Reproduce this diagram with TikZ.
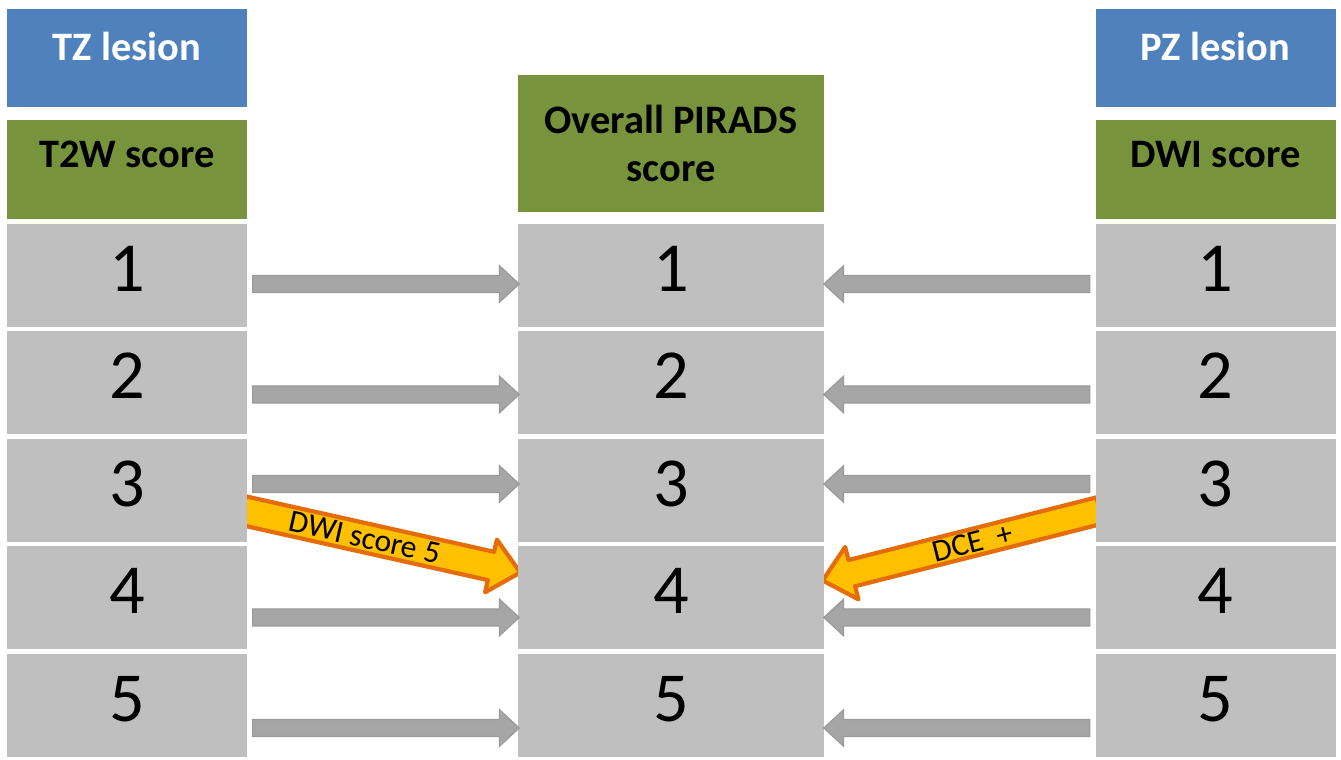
\documentclass[tikz,border=0pt]{standalone}
\usepackage{fontspec}
\setmainfont{Carlito}
\usetikzlibrary{calc,backgrounds}
\definecolor{hdrblue}{HTML}{4F81BD}
\definecolor{hdrgreen}{HTML}{77933C}
\definecolor{rowgray}{HTML}{BFBFBF}
\definecolor{arrgray}{HTML}{A6A6A6}
\definecolor{dceorange}{HTML}{E46C0A}
\definecolor{dceyellow}{HTML}{FFC000}
\newcommand\hdrfont{\fontsize{11.5}{13.5}\selectfont\bfseries}
\def\blockarrow[#1](#2)(#3)(#4:#5:#6){%
	\coordinate (ba-h) at ($(#3)!#6!(#2)$);
	\draw[#1] ($(#2)!#4!90:(#3)$) -- ($(ba-h)!#4!90:(#3)$) -- ($(ba-h)!#5!90:(#3)$) -- (#3)
		-- ($(ba-h)!#5!-90:(#3)$) -- ($(ba-h)!#4!-90:(#3)$) -- ($(#2)!#4!-90:(#3)$) -- cycle;}

\begin{document}
\begin{tikzpicture}[
		lesionbox/.style={fill=hdrblue, text=white, font=\hdrfont, inner sep=0pt, minimum width=2.4cm, minimum height=0.98cm, text depth=0.24cm},
		scorebox/.style={fill=hdrgreen, font=\hdrfont, inner sep=0pt, minimum width=2.4cm, minimum height=0.99cm},
		numbox/.style={fill=rowgray, font=\fontsize{20}{24}\selectfont, inner sep=0pt, minimum width=2.4cm, minimum height=1.03cm, text depth=0.14cm},
		grayarrow/.style={fill=arrgray, draw=black!40, line width=0.3pt},
		dcearrow/.style={fill=dceyellow, draw=dceorange, line width=1.2pt, line join=round},
		arrowtext/.style={font=\fontsize{9}{10}\selectfont}
	]
			%%%%% START %%%%%
			\useasboundingbox (0, 0) rectangle (13.41, -7.6);
			
			\node[lesionbox] (tzh) at (1.27, -0.58) {TZ lesion};
			\node[lesionbox] (pzh) at (12.155, -0.58) {PZ lesion};
			
			\node[scorebox, text depth=0.3cm] (tzs) at (1.27, -1.695) {T2W score};
			\node[scorebox, text depth=0.3cm] (pzs) at (12.155, -1.695) {DWI score};
			\node[scorebox, minimum width=3.06cm, minimum height=1.37cm, align=center] (ovs) at (6.71, -1.435) {Overall PIRADS\\score};
			
			\foreach \i in {1,...,5} {
				\node[numbox] (t\i) at (1.27, {-2.755-1.075*(\i-1)}) {\i};
				\node[numbox, minimum width=3.06cm] (o\i) at (6.71, {-2.755-1.075*(\i-1)}) {\i};
				\node[numbox] (p\i) at (12.155, {-2.755-1.075*(\i-1)}) {\i};
			}
			
			\foreach \i/\dy in {1/-0.085, 2/-0.115, 3/0.065, 4/-0.195, 5/-0.225} {
				\coordinate (la\i) at ($(t\i.east)+(0.05,\dy)$);
				\coordinate (lb\i) at ($(o\i.west)+(0.02,\dy)$);
				\coordinate (ra\i) at ($(p\i.west)+(-0.05,\dy)$);
				\coordinate (rb\i) at ($(o\i.east)+(-0.01,\dy)$);
				\blockarrow[grayarrow](la\i)(lb\i)(0.085cm:0.185cm:0.2cm)
				\blockarrow[grayarrow](ra\i)(rb\i)(0.085cm:0.185cm:0.2cm)
			}
			
			% orange arrows sit behind the boxes
			\coordinate (dwia) at ($(t3.east)+(-0.05,-0.2)$);
			\coordinate (dwib) at ($(o4.west)+(0.03,0.255)$);
			\coordinate (dcea) at ($(p3.west)+(0.05,-0.2)$);
			\coordinate (dceb) at ($(o4.east)+(-0.02,0.175)$);
			\begin{scope}[on background layer]
				\blockarrow[dcearrow](dwia)(dwib)(0.145cm:0.27cm:0.3cm)
				\blockarrow[dcearrow](dcea)(dceb)(0.135cm:0.27cm:0.3cm)
			\end{scope}
			\path (dwia) -- (dwib) node[arrowtext, sloped, pos=0.44] {DWI score 5};
			\path (dcea) -- (dceb) node[arrowtext, sloped, pos=0.46] {DCE\ \ +};
			
			%%%%% END %%%%%
		\end{tikzpicture}
\end{document}
